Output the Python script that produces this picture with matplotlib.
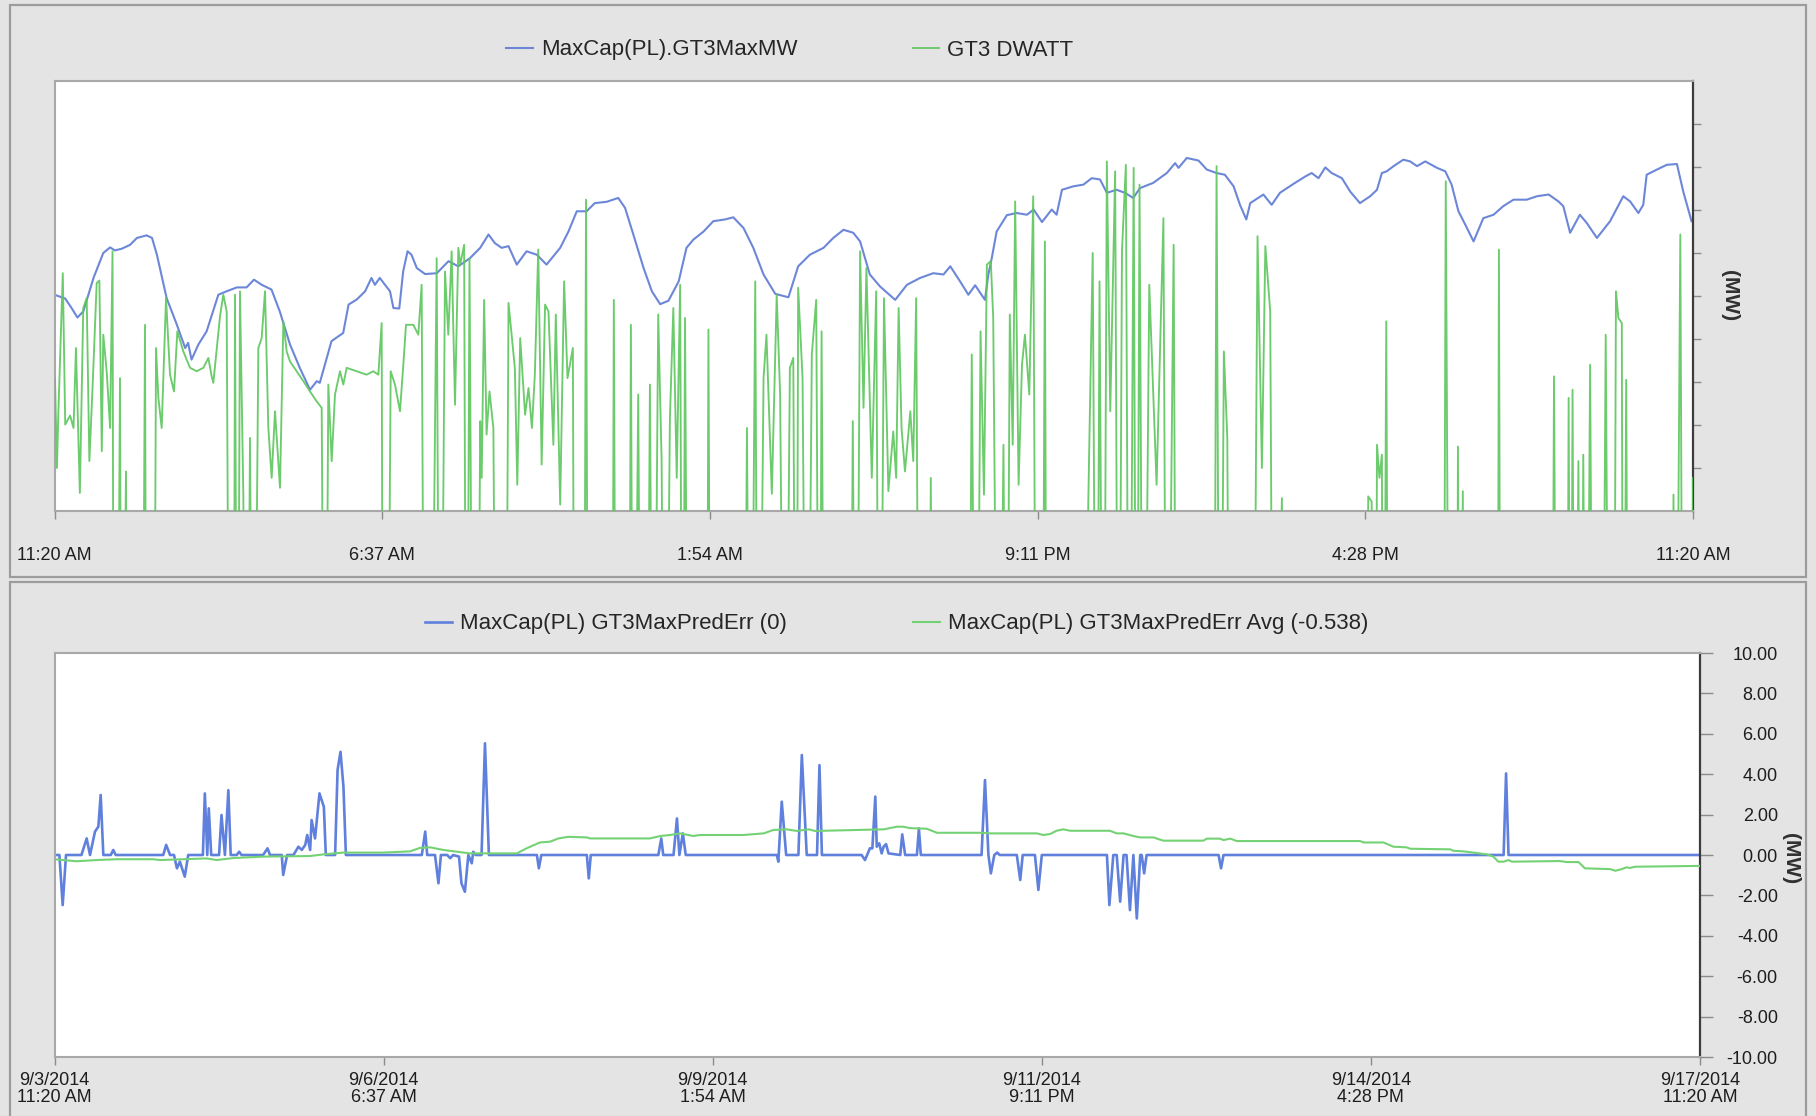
import matplotlib

matplotlib.use("Agg")
import matplotlib.pyplot as plt
from matplotlib.patches import Rectangle
import numpy as np

plt.rcParams.update(
    {
        "font.family": ["Liberation Sans", "DejaVu Sans"],
        "text.color": "#262626",
        "xtick.color": "#8c8c8c",
        "ytick.color": "#8c8c8c",
        "xtick.labelcolor": "#1e1e1e",
        "ytick.labelcolor": "#1e1e1e",
    }
)

# Time axis in hours after 9/3/2014 11:20 AM, two weeks wide
SPAN_H = 336
tick_hours = [0, 67.2, 134.4, 201.6, 268.8, 336]
tick_times = ["11:20 AM", "6:37 AM", "1:54 AM", "9:11 PM", "4:28 PM", "11:20 AM"]
tick_dates = ["9/3/2014", "9/6/2014", "9/9/2014", "9/11/2014", "9/14/2014", "9/17/2014"]

# MaxCap(PL).GT3MaxMW (MW)
t_cap = [0.0, 2.2, 3.5, 4.7, 5.9, 8.0, 10.0, 11.4, 12.4, 13.8, 15.5, 16.9, 18.9, 20.0,
         21.0, 23.0, 25.1, 26.8, 27.4, 28.1, 29.5, 31.2, 33.6, 35.3, 37.4, 39.4, 40.9,
         42.5, 44.5, 46.2, 48.3, 50.3, 52.4, 53.8, 54.4, 56.8, 59.2, 60.3, 62.0, 63.7,
         65.0, 65.7, 66.7, 68.8, 69.5, 70.7, 71.5, 72.4, 73.2, 74.3, 76.0, 78.4, 80.8,
         82.8, 85.2, 87.3, 89.0, 90.3, 91.7, 93.1, 94.8, 96.8, 98.9, 100.9, 103.7, 105.4,
         107.1, 109.1, 110.8, 113.2, 115.6, 117.0, 118.7, 120.8, 122.5, 124.2, 125.9,
         128.0, 129.6, 131.0, 133.1, 135.1, 137.5, 139.2, 141.3, 143.3, 145.4, 147.8,
         150.5, 152.5, 154.9, 157.7, 159.7, 161.8, 163.8, 165.2, 167.2, 169.3, 172.4,
         174.8, 177.5, 180.2, 182.3, 183.7, 185.7, 187.4, 188.8, 190.8, 191.5, 192.2,
         193.2, 195.3, 197.3, 199.4, 200.8, 202.5, 204.5, 205.5, 206.6, 208.9, 211.0,
         212.7, 214.4, 215.8, 217.8, 219.5, 221.2, 222.6, 225.3, 228.1, 229.8, 230.5,
         232.2, 234.6, 236.3, 238.3, 240.0, 241.8, 243.1, 244.4, 245.2, 247.9, 249.6,
         251.3, 254.1, 256.5, 257.8, 259.2, 260.6, 261.9, 264.0, 265.7, 267.7, 269.8,
         271.2, 272.2, 273.2, 274.6, 276.6, 278.0, 279.4, 281.1, 283.5, 285.2, 286.5,
         287.9, 289.3, 291.0, 293.0, 295.1, 297.1, 299.2, 301.9, 304.0, 306.4, 308.4,
         309.4, 310.8, 312.8, 314.2, 316.3, 319.0, 321.7, 323.1, 324.8, 325.8, 326.5,
         328.6, 330.6, 332.7, 334.0, 335.7]
mw_cap = [150.3, 149.4, 147.2, 145.0, 146.4, 154.2, 160.0, 161.3, 160.6, 161.0, 161.9,
          163.5, 164.1, 163.5, 159.6, 149.5, 143.3, 137.9, 139.1, 135.2, 138.7, 141.8,
          150.3, 151.1, 152.0, 152.0, 153.8, 152.6, 151.5, 146.4, 138.7, 133.3, 128.2,
          130.2, 129.8, 139.5, 141.4, 148.0, 149.2, 151.1, 154.2, 152.6, 154.2, 151.1,
          147.2, 147.1, 155.7, 160.4, 159.6, 156.5, 155.1, 155.3, 158.1, 156.9, 158.8,
          161.2, 164.3, 162.3, 161.2, 161.6, 157.3, 160.4, 159.6, 157.3, 161.2, 165.0,
          169.7, 169.7, 171.6, 171.9, 172.8, 170.5, 164.3, 156.5, 151.1, 148.1, 148.9,
          153.4, 161.2, 163.1, 165.0, 167.4, 167.8, 168.3, 165.8, 161.2, 155.0, 150.5,
          149.7, 156.9, 159.6, 161.2, 163.5, 165.4, 164.7, 162.7, 155.0, 152.2, 149.1,
          152.6, 154.2, 155.3, 155.0, 156.9, 153.4, 150.3, 152.5, 149.1, 155.0, 158.8,
          165.0, 168.8, 169.3, 168.9, 170.1, 167.2, 170.1, 168.9, 174.7, 175.5, 175.9,
          177.4, 177.1, 174.0, 174.7, 174.0, 172.8, 175.1, 176.3, 178.6, 180.9, 179.8,
          182.1, 181.5, 179.4, 178.6, 178.2, 175.5, 171.2, 167.8, 171.6, 173.6, 171.2,
          174.0, 176.1, 177.8, 178.6, 177.4, 179.9, 178.6, 177.4, 174.3, 171.6, 173.2,
          174.7, 178.6, 179.0, 180.2, 181.7, 181.3, 180.2, 181.3, 179.8, 179.0, 175.9,
          169.7, 166.6, 162.7, 168.1, 168.9, 170.9, 172.4, 172.4, 173.2, 173.6, 172.0,
          170.9, 164.7, 168.9, 167.0, 163.5, 167.4, 173.2, 172.0, 169.3, 171.2, 178.2,
          179.4, 180.5, 180.7, 174.3, 167.4]

# GT3 DWATT (MW); 0 while the unit is off line
t_dwatt = [0.1, 0.5, 0.8, 1.7, 2.2, 3.2, 3.9, 4.4, 5.2, 5.9, 6.6, 7.15, 7.8, 8.65, 9.2,
           9.7, 10.0, 10.7, 11.4, 11.9, 12.2, 12.75, 13.43, 13.78, 14.66, 15.0, 17.9,
           18.56, 18.9, 20.27, 20.82, 21.3, 21.98, 22.87, 23.69, 24.51, 25.19, 26.42,
           27.79, 29.16, 30.52, 31.55, 32.23, 32.57, 33.94, 34.62, 35.31, 35.99, 36.67,
           37.02, 37.49, 38.04, 38.72, 39.41, 40.09, 40.77, 41.8, 42.48, 43.17, 43.85,
           44.53, 45.22, 46.24, 46.93, 47.61, 48.29, 49.66, 51.03, 52.4, 53.76, 54.79,
           55.47, 56.15, 56.84, 57.52, 58.55, 59.23, 59.91, 61.97, 64.01, 65.38, 66.41,
           67.09, 67.43, 68.12, 68.94, 69.82, 70.85, 71.53, 72.08, 73.58, 74.61, 75.29,
           75.97, 77.0, 78.37, 79.05, 80.08, 80.76, 81.44, 82.13, 82.81, 83.2, 84.0,
           84.5, 85.1, 85.9, 86.6, 87.3, 87.6, 88.1, 88.6, 89.2, 90.0, 90.7, 92.4, 93.1,
           93.8, 94.4, 94.9, 95.5, 96.5, 97.2, 97.9, 98.5, 99.2, 99.9, 100.6, 101.3,
           102.3, 102.8, 103.7, 104.5, 105.2, 106.3, 106.7, 108.5, 109.0, 109.5, 114.3,
           114.7, 115.2, 117.7, 118.2, 118.7, 119.7, 120.4, 121.4, 122.1, 122.8, 123.8,
           124.5, 125.2, 126.2, 126.9, 127.6, 128.3, 128.8, 129.3, 130.0, 133.7, 134.1,
           134.6, 141.3, 142.0, 142.7, 143.7, 144.3, 145.4, 146.0, 147.1, 148.1, 148.8,
           149.8, 150.8, 151.5, 152.1, 152.5, 153.4, 154.3, 155.3, 156.2, 156.9, 157.3,
           158.0, 163.1, 163.7, 164.4, 165.2, 165.9, 166.5, 167.6, 168.5, 169.2, 170.1,
           171.0, 172.0, 172.6, 173.1, 173.7, 174.4, 175.5, 176.1, 176.7, 177.4, 179.2,
           179.7, 180.2, 187.4, 188.1, 189.0, 189.9, 190.6, 191.2, 192.0, 192.5, 193.6,
           194.6, 195.2, 195.9, 196.5, 197.0, 197.7, 198.4, 199.0, 199.9, 200.7, 201.4,
           202.5, 203.1, 203.5, 211.0, 212.0, 212.9, 213.7, 214.3, 215.1, 215.8, 216.5,
           217.5, 218.2, 218.9, 219.7, 220.4, 221.3, 221.9, 222.5, 223.3, 224.5, 225.3,
           226.0, 227.4, 228.1, 229.5, 230.1, 237.7, 238.3, 239.0, 239.8, 240.5, 241.1,
           245.7, 246.7, 247.6, 248.3, 249.3, 250.0, 251.7, 252.0, 269.1, 269.4, 270.1,
           270.8, 271.2, 271.7, 272.2, 272.5, 273.1, 273.6, 284.8, 285.3, 286.1, 287.5,
           287.8, 288.2, 288.8, 289.1, 295.9, 296.2, 296.6, 307.0, 307.5, 308.1, 310.1,
           310.5, 310.9, 311.3, 311.8, 312.5, 313.0, 313.5, 314.1, 314.9, 315.6, 317.3,
           318.1, 318.9, 319.7, 320.2, 320.7, 321.4, 321.7, 322.3, 322.8, 331.6, 332.0,
           332.4, 333.4, 334.0, 335.7, 336.0]
mw_dwatt = [130.9, 110.0, 123.2, 155.3, 120.1, 122.2, 119.3, 137.9, 104.2, 147.2, 149.5,
            111.6, 128.6, 153.0, 153.6, 113.9, 141.0, 132.5, 119.3, 160.4, 0, 0, 130.9,
            0, 109.2, 0, 0, 143.3, 0, 0, 137.9, 126.3, 119.3, 149.5, 131.7, 127.8, 141.8,
            137.1, 133.3, 132.5, 133.3, 135.6, 131.3, 129.8, 145.3, 150.3, 146.4, 0, 0,
            150.3, 0, 151.1, 103.8, 0, 117.0, 0, 137.9, 140.2, 151.1, 119.3, 107.7,
            123.2, 105.4, 144.1, 137.1, 134.8, 132.5, 130.2, 127.8, 125.5, 124.0, 0,
            129.4, 111.6, 127.1, 132.5, 129.4, 133.3, 132.5, 131.7, 132.5, 131.7, 143.7,
            0, 0, 132.5, 129.4, 123.2, 134.0, 143.3, 143.3, 141.0, 152.6, 0, 0, 158.8,
            0, 155.7, 141.0, 160.4, 124.7, 161.2, 157.3, 161.9, 0, 158.8, 0, 0, 120.9,
            107.7, 149.1, 117.8, 127.8, 119.3, 0, 0, 148.4, 140.2, 133.3, 106.1, 140.2,
            122.4, 128.6, 119.3, 131.7, 160.8, 110.8, 148.0, 146.4, 115.4, 145.7, 101.5,
            153.4, 130.9, 137.9, 0, 0, 172.4, 0, 0, 149.1, 0, 0, 143.3, 0, 127.1, 0, 0,
            129.4, 0, 145.7, 111.6, 0, 121.6, 147.2, 107.7, 152.6, 0, 144.9, 0, 0,
            142.2, 0, 0, 119.3, 0, 153.4, 0, 130.9, 141.0, 104.0, 150.3, 127.1, 0,
            133.3, 135.6, 0, 151.9, 130.9, 0, 136.4, 149.1, 0, 141.8, 0, 0, 120.9, 0,
            160.4, 124.0, 156.5, 107.7, 151.1, 0, 149.5, 104.6, 118.5, 107.7, 147.2,
            119.3, 109.2, 123.2, 111.6, 149.5, 0, 0, 107.7, 0, 0, 136.4, 0, 141.8,
            103.8, 157.3, 158.1, 144.9, 0, 115.4, 0, 145.7, 115.4, 172.0, 106.1, 134.0,
            141.0, 127.1, 173.2, 0, 0, 162.7, 0, 0, 102.3, 160.0, 0, 153.4, 0, 181.3,
            123.2, 179.0, 0, 160.4, 180.5, 0, 179.8, 0, 175.9, 0, 152.6, 127.8, 106.1,
            168.1, 0, 161.9, 0, 0, 180.2, 0, 137.1, 117.0, 0, 0, 163.9, 110.0, 161.6,
            146.4, 0, 103.0, 0, 0, 103.4, 102.2, 0, 115.4, 107.7, 113.1, 0, 144.1, 0, 0,
            176.7, 0, 0, 115.0, 0, 104.6, 0, 0, 160.8, 0, 0, 131.3, 0, 0, 126.3, 0,
            128.2, 0, 111.6, 0, 113.1, 0, 134.0, 0, 0, 141.0, 0, 0, 151.1, 144.9, 143.7,
            0, 130.5, 0, 0, 103.8, 0, 164.3, 0, 0, 107.7]

# MaxCap(PL) GT3MaxPredErr (MW)
t_err = [0.0, 1.0, 1.67, 2.35, 5.5, 6.57, 7.25, 8.27, 8.95, 9.43, 9.97, 11.5, 12.0,
         12.5, 22.2, 22.8, 23.6, 24.4, 25.0, 25.6, 26.6, 27.3, 30.3, 30.7, 31.2, 31.5,
         32.0, 33.6, 34.1, 34.8, 35.5, 35.98, 37.2, 37.7, 38.2, 42.6, 43.5, 44.0, 46.4,
         46.7, 47.5, 48.8, 49.8, 50.5, 51.2, 51.6, 52.2, 52.5, 53.2, 54.1, 55.0, 55.4,
         57.3, 57.8, 58.4, 59.0, 59.5, 75.0, 75.7, 76.1, 77.7, 78.4, 78.9, 80.2, 80.8,
         81.4, 82.6, 83.1, 83.8, 84.5, 85.2, 85.5, 86.0, 87.2, 87.9, 88.7, 98.5, 98.9,
         99.4, 108.7, 109.1, 109.5, 123.3, 123.9, 124.3, 126.4, 127.1, 127.6, 128.3,
         128.9, 147.5, 147.8, 148.5, 149.4, 151.9, 152.6, 153.6, 155.7, 156.2, 156.7,
         164.8, 165.5, 166.5, 167.0, 167.6, 167.9, 168.4, 168.9, 169.3, 169.8, 170.3,
         172.7, 173.1, 173.7, 176.1, 176.5, 176.9, 189.3, 190.0, 190.7, 191.2, 191.9,
         192.5, 193.0, 196.5, 197.2, 197.7, 200.2, 200.9, 201.6, 214.9, 215.4, 216.2,
         216.9, 217.6, 218.3, 218.9, 219.6, 220.3, 221.0, 221.7, 222.0, 222.5, 223.0,
         237.7, 238.2, 238.7, 295.9, 296.4, 296.9, 336.0]
err = [0.0, 0.0, -2.48, 0.0, 0.0, 0.82, 0.0, 1.16, 1.40, 2.97, 0.0, 0.0, 0.25, 0.0, 0.0,
       0.50, 0.0, 0.0, -0.66, -0.33, -1.07, 0.0, 0.0, 3.05, 0.0, 2.31, 0.0, 0.0, 1.98,
       0.0, 3.21, 0.0, 0.0, 0.16, 0.0, 0.0, 0.33, 0.0, 0.0, -0.99, 0.0, 0.0, 0.41, 0.25,
       0.50, 0.99, 0.25, 1.73, 0.82, 3.05, 2.39, 0.0, 0.0, 4.21, 5.11, 3.38, 0.0, 0.0,
       1.16, 0.0, 0.0, -1.40, 0.0, 0.0, -0.16, 0.0, -0.08, -1.40, -1.82, 0.0, -0.41,
       0.16, 0.0, 0.0, 5.53, 0.0, 0.0, -0.66, 0.0, 0.0, -1.16, 0.0, 0.0, 0.82, 0.0, 0.0,
       1.81, 0.0, 1.07, 0.0, 0.0, -0.33, 2.64, 0.0, 0.0, 4.95, 0.0, 0.0, 4.45, 0.0, 0.0,
       -0.25, 0.33, 0.33, 2.89, 0.41, 0.58, 0.08, 0.41, 0.54, 0.08, 0.0, 1.02, 0.0, 0.0,
       1.32, 0.0, 0.0, 3.71, 0.0, -0.91, 0.0, 0.12, 0.0, 0.0, -1.24, 0.0, 0.0, -1.73,
       0.0, 0.0, -2.48, 0.0, 0.0, -2.31, 0.0, 0.0, -2.73, 0.0, -3.14, 0.0, 0.0, -0.91,
       0.0, 0.0, -0.66, 0.0, 0.0, 4.04, 0.0, 0.0]

# MaxCap(PL) GT3MaxPredErr Avg (MW)
t_avg = [0.0, 1.8, 4.5, 8.6, 12.7, 20.2, 21.5, 26.3, 31.1, 33.1, 36.5, 42.6, 52.2, 54.9,
         59.0, 67.1, 72.6, 74.6, 76.7, 79.4, 84.8, 94.4, 96.4, 99.1, 101.2, 102.9, 104.9,
         108.7, 109.4, 121.6, 123.7, 125.7, 127.7, 130.5, 131.8, 140.7, 144.8, 146.8,
         149.5, 151.6, 154.0, 155.3, 169.3, 172.0, 173.3, 174.7, 178.1, 180.2, 189.7,
         191.0, 200.6, 201.9, 203.3, 204.6, 206.0, 207.4, 215.5, 216.9, 218.3, 220.3,
         221.7, 224.4, 226.4, 234.6, 235.3, 238.0, 238.7, 240.1, 241.4, 266.6, 267.3,
         271.4, 273.4, 276.1, 276.8, 285.0, 285.6, 287.7, 289.7, 292.5, 293.8, 294.8,
         295.9, 296.9, 297.6, 307.4, 308.8, 311.2, 312.5, 317.7, 318.7, 320.0, 321.0,
         321.7, 322.8, 336.0]
err_avg = [-0.21, -0.25, -0.31, -0.25, -0.21, -0.21, -0.25, -0.21, -0.17, -0.25, -0.15,
           -0.08, -0.05, 0.03, 0.12, 0.12, 0.18, 0.35, 0.38, 0.25, 0.08, 0.08, 0.33,
           0.62, 0.66, 0.82, 0.90, 0.87, 0.82, 0.82, 0.94, 0.99, 1.07, 0.94, 0.99, 0.99,
           1.07, 1.24, 1.27, 1.19, 1.27, 1.19, 1.27, 1.40, 1.40, 1.33, 1.30, 1.10, 1.10,
           1.07, 1.07, 0.99, 1.04, 1.20, 1.27, 1.20, 1.20, 1.07, 1.07, 0.94, 0.87, 0.87,
           0.71, 0.71, 0.81, 0.81, 0.74, 0.81, 0.69, 0.69, 0.62, 0.62, 0.41, 0.38, 0.31,
           0.28, 0.21, 0.18, 0.12, 0.03, -0.08, -0.33, -0.33, -0.25, -0.33, -0.30,
           -0.35, -0.35, -0.66, -0.70, -0.78, -0.70, -0.61, -0.64, -0.58, -0.54]

err_ticks = [-10, -8, -6, -4, -2, 0, 2, 4, 6, 8, 10]

BLUE = "#6d87d8"
BLUE_ERR = "#5f80dc"
GREEN = "#5cc65c"
GREEN_AVG = "#74d274"
FRAME = "#a8a8a8"
DARK = "#3c3c3c"
W, H = 1816, 1116


def style_frame(ax):
    for side in ("left", "top", "bottom"):
        ax.spines[side].set_color(FRAME)
        ax.spines[side].set_linewidth(1.5)
    ax.spines["right"].set_color(DARK)
    ax.spines["right"].set_linewidth(1.6)
    ax.set_facecolor("white")
    ax.set_xlim(0, SPAN_H)
    ax.set_xticks(tick_hours)
    ax.yaxis.tick_right()


fig = plt.figure(figsize=(W / 100, H / 100), dpi=100, facecolor="#e4e4e4")

# panel frames
fig.add_artist(Rectangle((10 / W, 1 - 577 / H), 1796 / W, 572 / H,
                         transform=fig.transFigure, fill=False, ec="#9c9c9c", lw=1.6))
fig.add_artist(Rectangle((10 / W, -0.01), 1796 / W, 1 - 582 / H + 0.01,
                         transform=fig.transFigure, fill=False, ec="#9c9c9c", lw=1.6))

# upper trend: capacity vs. generator output
ax1 = fig.add_axes([54.5 / W, 1 - 511 / H, 1638.5 / W, 430 / H])
style_frame(ax1)
l1, = ax1.plot(t_cap, mw_cap, color=BLUE, lw=1.5, label="MaxCap(PL).GT3MaxMW", zorder=2)
l2, = ax1.plot(t_dwatt, mw_dwatt, color=GREEN, lw=1.35, alpha=0.9, label="GT3 DWATT", zorder=3)
ax1.set_ylim(100, 200)
ax1.set_yticks(np.arange(110, 200, 10))
ax1.tick_params(axis="y", length=6, width=1, labelright=False, labelleft=False)
ax1.set_xticklabels(tick_times)
ax1.tick_params(axis="x", length=6, width=1, pad=20, labelsize=13)
ax1.text(1.022, 0.5, "(MW)", transform=ax1.transAxes, rotation=-90,
         ha="center", va="center", fontsize=15, fontweight="bold", color="#303030")
ax1.legend(handles=[l1, l2], loc="center left", bbox_to_anchor=(506 / W, 1 - 50 / H),
           bbox_transform=fig.transFigure, ncol=2, frameon=False, fontsize=16,
           handlelength=1.2, handletextpad=0.36, columnspacing=5.2,
           borderpad=0, borderaxespad=0)

# lower trend: prediction error and its running average
ax2 = fig.add_axes([54.5 / W, 1 - 1057 / H, 1645.5 / W, 404 / H])
style_frame(ax2)
e1, = ax2.plot(t_err, err, color=BLUE_ERR, lw=1.9, label="MaxCap(PL) GT3MaxPredErr (0)", zorder=2)
e2, = ax2.plot(t_avg, err_avg, color=GREEN_AVG, lw=1.5,
               label="MaxCap(PL) GT3MaxPredErr Avg (-0.538)", zorder=3)
ax2.set_ylim(-10, 10)
ax2.set_yticks(err_ticks)
ax2.set_yticklabels([f"{v:.2f}" for v in err_ticks])
ax2.tick_params(axis="y", length=9, width=1, pad=47, labelsize=13)
for lab in ax2.get_yticklabels():
    lab.set_horizontalalignment("right")
ax2.set_xticklabels([f"{d}\n{t}" for d, t in zip(tick_dates, tick_times)], linespacing=1.0)
ax2.tick_params(axis="x", length=6, width=1, pad=5, labelsize=13)
ax2.text(1.0547, 0.49, "(MW)", transform=ax2.transAxes, rotation=-90,
         ha="center", va="center", fontsize=15, fontweight="bold", color="#303030")
ax2.legend(handles=[e1, e2], loc="center left", bbox_to_anchor=(425 / W, 1 - 624 / H),
           bbox_transform=fig.transFigure, ncol=2, frameon=False, fontsize=16,
           handlelength=1.2, handletextpad=0.36, columnspacing=5.7,
           borderpad=0, borderaxespad=0)

fig.savefig("out.png", dpi=100, facecolor=fig.get_facecolor())
